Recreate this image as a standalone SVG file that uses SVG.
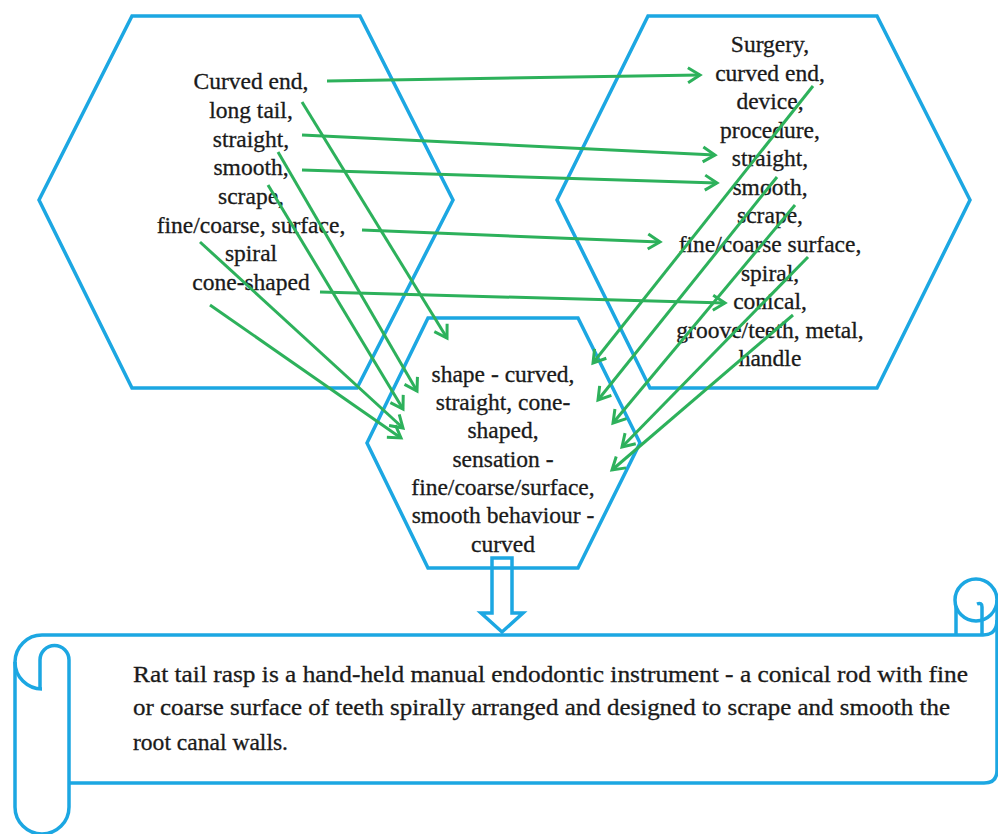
<svg xmlns="http://www.w3.org/2000/svg" width="998" height="834" viewBox="0 0 998 834">
<style>
.hex{fill:none;stroke:#1CA7E2;stroke-width:3.5;stroke-linejoin:miter}
.blue{fill:none;stroke:#1CA7E2;stroke-width:3.5}
text{font-family:"Liberation Serif","Times New Roman",serif;fill:#1a1a1a;stroke:#1a1a1a;stroke-width:0.3}
.t{font-size:23.5px;text-anchor:middle}
.bt{font-size:23.5px}
.c{fill:none;stroke:#2DB15B;stroke-width:3;marker-end:url(#ah)}
</style>
<defs>
<marker id="ah" markerUnits="userSpaceOnUse" markerWidth="20" markerHeight="20" viewBox="0 0 20 20" refX="17" refY="10" orient="auto">
<path d="M5,2.5 L17,10 L5,17.5" fill="none" stroke="#2DB15B" stroke-width="3"/>
</marker>
</defs>
<rect width="998" height="834" fill="#fff"/>
<g id="left-hex">
<polygon class="hex" points="132,16 360,16 453,200 357,388 132,388 39,200"/>
<text class="t" x="251" y="89">Curved end,</text>
<text class="t" x="251" y="118">long tail,</text>
<text class="t" x="251" y="147">straight,</text>
<text class="t" x="251" y="175">smooth,</text>
<text class="t" x="251" y="204">scrape,</text>
<text class="t" x="251" y="233">fine/coarse, surface,</text>
<text class="t" x="251" y="261">spiral</text>
<text class="t" x="251" y="290">cone-shaped</text>
</g>
<g id="right-hex">
<polygon class="hex" points="648,16 877,16 970,200 877,388 650,388 557,200"/>
<text class="t" x="770" y="52">Surgery,</text>
<text class="t" x="770" y="80.6">curved end,</text>
<text class="t" x="770" y="109">device,</text>
<text class="t" x="770" y="138">procedure,</text>
<text class="t" x="770" y="166">straight,</text>
<text class="t" x="770" y="195">smooth,</text>
<text class="t" x="770" y="223">scrape,</text>
<text class="t" x="770" y="252">fine/coarse surface,</text>
<text class="t" x="770" y="281">spiral,</text>
<text class="t" x="770" y="309">conical,</text>
<text class="t" x="770" y="338">groove/teeth, metal,</text>
<text class="t" x="770" y="366">handle</text>
</g>
<g id="middle-hex">
<polygon class="hex" points="428,318 578,318 640,443 578,568 428,568 367,443"/>
<text class="t" x="503" y="382">shape - curved,</text>
<text class="t" x="503" y="410">straight, cone-</text>
<text class="t" x="503" y="438">shaped,</text>
<text class="t" x="503" y="467">sensation -</text>
<text class="t" x="503" y="495">fine/coarse/surface,</text>
<text class="t" x="503" y="523">smooth behaviour -</text>
<text class="t" x="503" y="552">curved</text>
</g>
<g id="block-arrow">
<path class="blue" d="M492,558 H512 V613 H523 L502,632 L481,613 H492 Z"/>
</g>
<g id="scroll">
<path class="blue" d="M42,635 H983 Q997,635 997,620"/>
<circle class="blue" cx="976" cy="600" r="21"/>
<path class="blue" d="M956,634 V606"/>
<path class="blue" d="M982,634 V607 Q982,602 977,604"/>
<path class="blue" d="M997,600 V770 Q997,783 984,783 H69"/>
<path class="blue" d="M42,635 A27,27 0 0 0 15,662 V807 A27,27 0 0 0 69,807 V660 A14.5,14.5 0 0 0 40,660 V689"/>
<path class="blue" d="M15,662 A27,27 0 0 0 42,689"/>
<text class="bt" x="133" y="682" textLength="835" lengthAdjust="spacingAndGlyphs">Rat tail rasp is a hand-held  manual endodontic instrument  - a conical rod with fine</text>
<text class="bt" x="133" y="715" textLength="817" lengthAdjust="spacingAndGlyphs">or coarse surface of teeth spirally arranged and designed to scrape and smooth the</text>
<text class="bt" x="133" y="750" textLength="155" lengthAdjust="spacingAndGlyphs">root canal walls.</text>
</g>
<g id="connectors">
<line class="c" x1="327" y1="81" x2="700" y2="75"/>
<line class="c" x1="302" y1="135" x2="715" y2="155"/>
<line class="c" x1="302" y1="170" x2="717" y2="183"/>
<line class="c" x1="362" y1="230" x2="660" y2="242"/>
<line class="c" x1="320" y1="292" x2="725" y2="303"/>
<line class="c" x1="302" y1="102" x2="447" y2="338"/>
<line class="c" x1="278" y1="152" x2="417" y2="391"/>
<line class="c" x1="268" y1="185" x2="403" y2="409"/>
<line class="c" x1="200" y1="242" x2="403" y2="428"/>
<line class="c" x1="210" y1="305" x2="401" y2="438"/>
<line class="c" x1="813" y1="86" x2="593" y2="363"/>
<line class="c" x1="777" y1="177" x2="598" y2="400"/>
<line class="c" x1="795" y1="205" x2="613" y2="423"/>
<line class="c" x1="808" y1="257" x2="622" y2="447"/>
<line class="c" x1="793" y1="315" x2="612" y2="470"/>
</g>
</svg>
